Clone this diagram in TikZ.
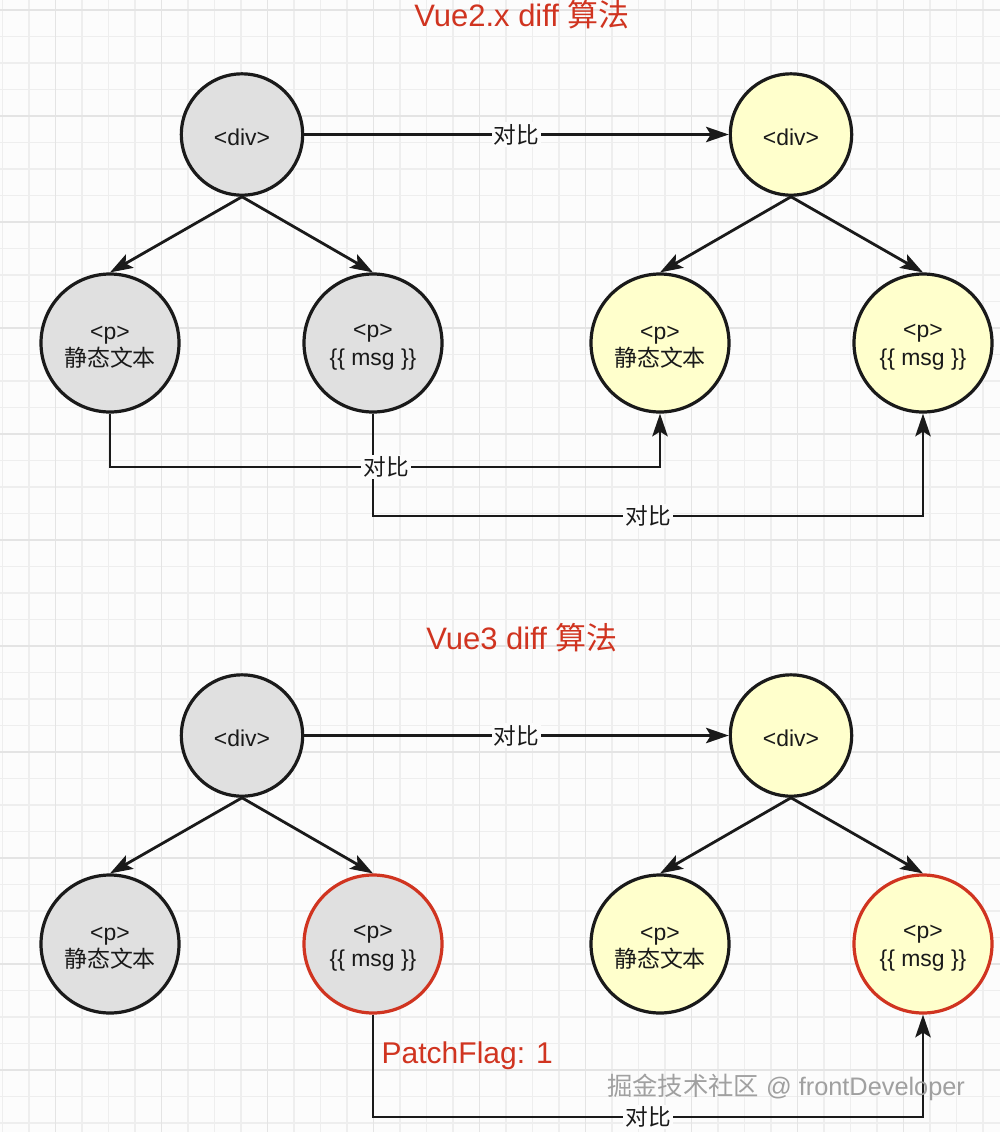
\documentclass[tikz,border=0pt]{standalone}
\usepackage{fontspec}
\setmainfont{Liberation Sans}
\newfontfamily\cjk{Noto Sans CJK SC}
\usetikzlibrary{arrows.meta}
\definecolor{bgc}{RGB}{252,252,252}
\definecolor{gridminor}{RGB}{238,238,238}
\definecolor{gridmajor}{RGB}{228,228,228}
\definecolor{greyf}{RGB}{224,224,224}
\definecolor{yellowf}{RGB}{255,255,204}
\definecolor{linec}{RGB}{26,26,26}
\definecolor{redc}{RGB}{208,52,32}
\definecolor{wmc}{RGB}{160,160,160}
\newcommand\tup{\rule{0pt}{16.5pt}}
\tikzset{
  treenode/.style={circle, draw=linec, line width=2.4pt, inner sep=0pt, align=center,
    font=\fontsize{17.2}{20.5}\selectfont, text=linec},
  rootgrey/.style={treenode, fill=greyf, minimum size=91pt},
  rootyellow/.style={treenode, fill=yellowf, minimum size=91pt},
  leafgrey/.style={treenode, fill=greyf, minimum size=103.5pt},
  leafyellow/.style={treenode, fill=yellowf, minimum size=103.5pt},
  changed/.style={draw=redc},
  conn/.style={draw=linec, line width=2.1pt, -{Stealth[length=17pt, width=11.5pt, inset=3.5pt]}},
  lbl/.style={fill=bgc, inner sep=1.5pt, text=linec, font=\fontsize{17}{20}\selectfont\cjk},
  titletext/.style={text=redc, font=\fontsize{23.25}{28}\selectfont},
  gridline/.style={draw=gridminor, line width=0.9pt},
  gridmaj/.style={draw=gridmajor, line width=1pt}
}
\begin{document}
\begin{tikzpicture}[x=0.75pt, y=-0.75pt]
\useasboundingbox (0,0) rectangle (1000,1132);
\fill[bgc] (0,0) rectangle (1000,1132);
% grid
\foreach \k in {0,...,37} { \draw[gridline] ({2.5+\k*26.5},0) -- ({2.5+\k*26.5},1132); }
\foreach \k in {0,...,42} { \draw[gridline] (0,{10+\k*26.5}) -- (1000,{10+\k*26.5}); }
\foreach \k in {2,6,...,34} { \draw[gridmaj] ({2.5+\k*26.5},0) -- ({2.5+\k*26.5},1132); }
\foreach \k in {0,4,...,40} { \draw[gridmaj] (0,{10+\k*26.5}) -- (1000,{10+\k*26.5}); }

% titles
\node[titletext] (t1) at (522,15) {Vue2.x diff {\cjk 算法}};
\node[titletext] (t2) at (522,638) {Vue3 diff {\cjk 算法}};

% Vue2 tree
\node[rootgrey] (A1) at (242,134.5) {\tup<div>};
\node[leafgrey] (A2) at (110,343) {\tup<p>\\{\cjk 静态文本}};
\node[leafgrey] (A3) at (373,343) {\tup<p>\\\{\{ msg \}\}};
\node[rootyellow] (B1) at (791,134.5) {\tup<div>};
\node[leafyellow] (B2) at (660,343) {\tup<p>\\{\cjk 静态文本}};
\node[leafyellow] (B3) at (923,343) {\tup<p>\\\{\{ msg \}\}};

\coordinate (y1) at (0,467);
\coordinate (y2) at (0,516);

\draw[conn] (A1.south) -- (A2.north);
\draw[conn] (A1.south) -- (A3.north);
\draw[conn] (B1.south) -- (B2.north);
\draw[conn] (B1.south) -- (B3.north);
\draw[conn] (A1) -- node[lbl]{对比} (B1);
\draw[conn] (A2.south) |- (B2.south |- y1) -- (B2.south);
\draw[conn] (A3.south) |- node[lbl, pos=0.75]{对比} (B3.south |- y2) -- (B3.south);
\node[lbl] (l1) at (386,467) {对比};

% Vue3 tree
\node[rootgrey] (C1) at (242,735.5) {\tup<div>};
\node[leafgrey] (C2) at (110,944) {\tup<p>\\{\cjk 静态文本}};
\node[leafgrey, changed] (C3) at (373,944) {\tup<p>\\\{\{ msg \}\}};
\node[rootyellow] (D1) at (791,735.5) {\tup<div>};
\node[leafyellow] (D2) at (660,944) {\tup<p>\\{\cjk 静态文本}};
\node[leafyellow, changed] (D3) at (923,944) {\tup<p>\\\{\{ msg \}\}};

\coordinate (y3) at (0,1117);

\draw[conn] (C1.south) -- (C2.north);
\draw[conn] (C1.south) -- (C3.north);
\draw[conn] (D1.south) -- (D2.north);
\draw[conn] (D1.south) -- (D3.north);
\draw[conn] (C1) -- node[lbl]{对比} (D1);
\draw[conn] (C3.south) |- node[lbl, pos=0.75]{对比} (D3.south |- y3) -- (D3.south);

\node[text=redc, font=\fontsize{22.5}{27}\selectfont, anchor=west] (pf) at (377,1056) {PatchFlag: 1};

% watermark
\node[text=wmc, font=\fontsize{19}{22}\selectfont] (wm) at (786,1087) {{\cjk 掘金技术社区} @ frontDeveloper};
\end{tikzpicture}
\end{document}
